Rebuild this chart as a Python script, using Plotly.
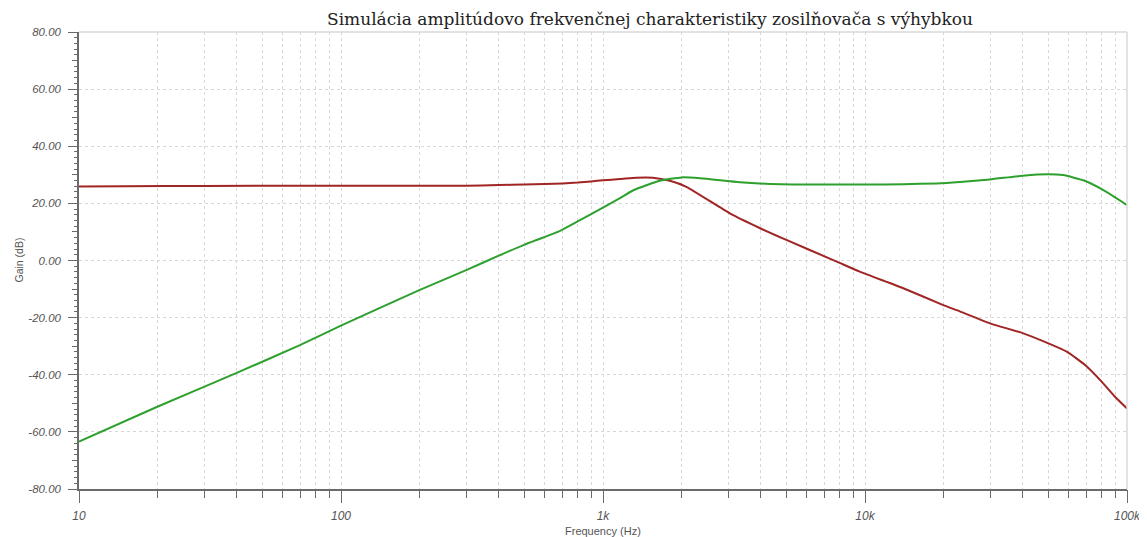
import plotly.graph_objects as go

title_text = "Simulácia amplitúdovo frekvenčnej charakteristiky zosilňovača s výhybkou"

freq_red = [10, 15, 30, 100, 300, 400, 500, 600, 700, 800, 900, 1000, 1160, 1340,
            1550, 1800, 2080, 3050, 3980, 5010, 7800, 9550, 14000, 19900, 23000,
            30000, 40200, 50100, 58900, 69200, 80000, 90000, 100000]
gain_red = [25.9, 26.0, 26.1, 26.2, 26.2, 26.4, 26.6, 26.8, 27.0, 27.3, 27.7, 28.1, 28.5, 29.0,
            29.0, 27.9, 25.8, 16.5, 11.3, 7.2, -0.4, -3.9, -9.7, -15.6, -17.8,
            -22.0, -25.5, -29.0, -31.9, -36.6, -42.4, -47.7, -51.8]

freq_green = [10, 19.9, 39.6, 69, 99, 200, 302, 398, 497, 686, 817, 1003, 1160, 1306,
              1650, 1995, 2350, 3330, 4330, 5330, 10000, 14000, 18800, 23000, 30000,
              40000, 50000, 57000, 69000, 81000, 100000]
gain_green = [-63.4, -51.2, -39.5, -29.8, -23.0, -10.3, -3.3, 1.6, 5.4, 10.4, 14.1, 18.6, 21.8, 24.6,
              27.9, 29.1, 28.8, 27.4, 26.8, 26.6, 26.6, 26.7, 27.0, 27.5, 28.4,
              29.7, 30.2, 29.9, 27.9, 24.7, 19.4]

decades = [10, 100, 1000, 10000, 100000]
decade_labels = ["10", "100", "1k", "10k", "100k"]
all_x_ticks = [m * d for d in decades[:-1] for m in range(1, 10)] + [100000]

y_major = [-80, -60, -40, -20, 0, 20, 40, 60, 80]
y_major_labels = ["-80.00", "-60.00", "-40.00", "-20.00", "0.00", "20.00", "40.00", "60.00", "80.00"]
y_mid = [-70, -50, -30, -10, 10, 30, 50, 70]

axis_col = "#6a6a6a"
label_col = "#555555"
grid_col = "#d8d8d8"

W, H = 1139, 529  # page body has an 8px margin in the 1147x537 window

fig = go.Figure()
fig.add_trace(go.Scatter(x=freq_red, y=gain_red, mode="lines",
                         line=dict(color="#a02525", width=2, shape="spline", smoothing=0.5),
                         showlegend=False))
fig.add_trace(go.Scatter(x=freq_green, y=gain_green, mode="lines",
                         line=dict(color="#2ea02e", width=2, shape="spline", smoothing=0.5),
                         showlegend=False))
fig.add_trace(go.Scatter(x=[10], y=[0], xaxis="x2", yaxis="y2", mode="markers",
                         marker=dict(opacity=0), showlegend=False, hoverinfo="skip"))

fig.update_layout(
    width=W, height=H,
    margin=dict(l=71, r=20, t=24, b=48, autoexpand=False),
    paper_bgcolor="white", plot_bgcolor="white",
    title=dict(text=title_text, xref="container", yref="container",
               x=642 / W, xanchor="center", y=1 - 11 / H, yanchor="middle",
               font=dict(family="DejaVu Serif", size=17, color="#222222")),
    xaxis=dict(type="log", range=[1, 5], tickmode="array", tickvals=all_x_ticks,
               ticktext=[""] * len(all_x_ticks), ticks="outside", ticklen=7, tickwidth=1,
               tickcolor=axis_col, showgrid=True, gridcolor=grid_col, griddash="dot",
               gridwidth=1, showline=True, linecolor=axis_col, linewidth=1.5,
               zeroline=False, automargin=False),
    xaxis2=dict(type="log", range=[1, 5], overlaying="x", anchor="y", side="bottom",
                tickmode="array", tickvals=decades, ticktext=decade_labels,
                ticks="outside", ticklen=13, tickwidth=1, tickcolor=axis_col,
                ticklabelstandoff=3, automargin=False,
                tickfont=dict(family="Liberation Sans", size=12, color=label_col, style="italic"),
                showgrid=False, showline=False, zeroline=False),
    yaxis=dict(range=[-80, 80], tickmode="array", tickvals=y_major, ticktext=y_major_labels,
               ticks="outside", ticklen=9, tickwidth=1, tickcolor=axis_col,
               ticklabelstandoff=5, automargin=False,
               tickfont=dict(family="Liberation Sans", size=11.5, color=label_col, style="italic"),
               showgrid=True, gridcolor=grid_col, griddash="dot", gridwidth=1,
               showline=True, linecolor=axis_col, linewidth=1.5, zeroline=False,
               minor=dict(dtick=2, ticks="outside", ticklen=3, tickcolor=axis_col, showgrid=False)),
    yaxis2=dict(range=[-80, 80], overlaying="y", anchor="x", side="left",
                tickmode="array", tickvals=y_mid, ticktext=[""] * len(y_mid),
                ticks="outside", ticklen=6, tickwidth=1, tickcolor=axis_col,
                showgrid=False, showline=False, zeroline=False, automargin=False),
    annotations=[
        dict(text="Frequency (Hz)", xref="paper", yref="paper", x=0.5, y=-42 / 457,
             xanchor="center", yanchor="middle", showarrow=False,
             font=dict(family="Liberation Sans", size=11, color=label_col)),
        dict(text="Gain (dB)", xref="paper", yref="paper", x=-61 / 1048, y=0.5,
             xanchor="center", yanchor="middle", showarrow=False, textangle=-90,
             font=dict(family="Liberation Sans", size=10.5, color=label_col)),
    ],
    shapes=[
        dict(type="line", xref="paper", yref="paper", x0=0, x1=1, y0=1, y1=1,
             line=dict(color="#d8d8d8", width=1.5)),
        dict(type="line", xref="paper", yref="paper", x0=1, x1=1, y0=0, y1=1,
             line=dict(color="#d8d8d8", width=1.5)),
    ],
)

fig.write_html("out.html")
